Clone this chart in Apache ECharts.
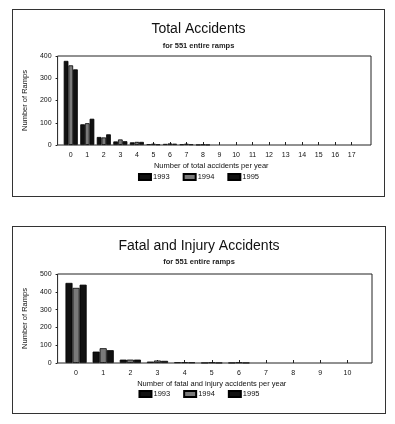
<!DOCTYPE html>
<html><head><meta charset="utf-8">
<script src="https://cdn.jsdelivr.net/npm/echarts@6/dist/echarts.min.js"></script>
<style>
html,body{margin:0;padding:0;background:#fff;width:395px;height:424px;overflow:hidden;}
.box{position:absolute;border:1px solid #333;box-sizing:border-box;background:#fff;}
</style></head>
<body>
<div id="c1" class="box" style="left:12px;top:9px;width:373px;height:188px;"></div>
<div id="c2" class="box" style="left:12px;top:226px;width:374px;height:188px;"></div>
<script>
var years = ['1993', '1994', '1995'];

var totalCats = ['0','1','2','3','4','5','6','7','8','9','10','11','12','13','14','15','16','17'];
var total1993 = [378, 93, 36, 16, 12, 4, 5, 3, 1, 0, 0, 0, 0, 0, 0, 0, 0, 0];
var total1994 = [358, 98, 34, 25, 14, 6, 7, 6, 2, 0, 0, 0, 0, 0, 0, 0, 0, 0];
var total1995 = [340, 118, 48, 17, 14, 3, 6, 3, 1, 0, 0, 0, 0, 0, 0, 0, 0, 0];
var totalTicks = [0, 100, 200, 300, 400];

var fiCats = ['0','1','2','3','4','5','6','7','8','9','10'];
var fi1993 = [450, 64, 19, 8, 4, 1, 1, 0, 0, 0, 0];
var fi1994 = [422, 83, 19, 14, 4, 3, 3, 0, 0, 0, 0];
var fi1995 = [440, 72, 19, 12, 3, 1, 1, 0, 0, 0, 0];
var fiTicks = [0, 100, 200, 300, 400, 500];

var FONT = '"Liberation Sans", Arial, sans-serif';
var colors = ['#111111', '#7a7a7a', '#111111'];

function build(el, cfg) {
  var chart = echarts.init(document.getElementById(el), null, {renderer: 'canvas'});
  var tickMax = cfg.ticks[cfg.ticks.length - 1];
  var tickStep = cfg.ticks[1] - cfg.ticks[0];
  var series = cfg.data.map(function (d, i) {
    return {
      name: years[i], type: 'bar', xAxisIndex: 0, yAxisIndex: 0,
      data: d.map(function (v) { return v === 0 ? null : v; }),
      barGap: '0%', barCategoryGap: cfg.gap,
      itemStyle: {color: colors[i], borderColor: '#000', borderWidth: 0.8},
      emphasis: {disabled: true}, animation: false
    };
  });
  chart.setOption({
    animation: false,
    title: [
      {text: cfg.title, left: 'center', top: 7, textStyle: {fontFamily: FONT, fontSize: 14, fontWeight: 'normal', color: '#111'}},
      {text: 'for 551 entire ramps', left: 'center', top: cfg.subTop, textStyle: {fontFamily: FONT, fontSize: 7.5, fontWeight: 'bold', color: '#222'}}
    ],
    legend: {
      data: years, bottom: 10, left: 'center', itemWidth: 12, itemHeight: 6, itemGap: 13,
      icon: 'rect', textStyle: {fontFamily: FONT, fontSize: 7.5, color: '#111', padding: [0,0,0,-3]},
      selectedMode: false
    },
    grid: [
      {left: 49.5, right: 24, top: cfg.top, bottom: cfg.bottom},
      {left: 39, right: 13, top: cfg.top, bottom: cfg.bottom, show: true, borderColor: '#222', borderWidth: 1, backgroundColor: 'transparent', z: 5}
    ],
    xAxis: [
      {type: 'category', gridIndex: 0, data: cfg.cats,
       axisLine: {show: false},
       axisTick: {show: true, inside: true, length: 3, alignWithLabel: true, lineStyle: {color: '#222', width: 1}},
       axisLabel: {fontFamily: FONT, fontSize: 7, color: '#111', margin: 7, interval: 0},
       name: cfg.xName, nameLocation: 'middle', nameGap: 17,
       nameTextStyle: {fontFamily: FONT, fontSize: 7.5, color: '#111'}},
      {type: 'value', gridIndex: 1, show: false, min: 0, max: 1}
    ],
    yAxis: [
      {type: 'value', gridIndex: 0, min: 0, max: tickMax, interval: tickStep, show: false},
      {type: 'value', gridIndex: 1, min: 0, max: tickMax, interval: tickStep,
       axisLine: {show: false},
       axisTick: {show: true, length: 2, lineStyle: {color: '#222'}},
       splitLine: {show: false},
       axisLabel: {fontFamily: FONT, fontSize: 7, color: '#111', margin: 6},
       name: 'Number of Ramps', nameLocation: 'middle', nameGap: 22, nameRotate: 90,
       nameTextStyle: {fontFamily: FONT, fontSize: 7.5, color: '#111'}}
    ],
    series: series
  });
}

build('c1', {title: 'Total Accidents', subTop: 27, cats: totalCats, data: [total1993, total1994, total1995],
  ticks: totalTicks, xName: 'Number of total accidents per year', top: 46, bottom: 51, gap: '15%'});
build('c2', {title: 'Fatal and Injury Accidents', subTop: 26, cats: fiCats, data: [fi1993, fi1994, fi1995],
  ticks: fiTicks, xName: 'Number of fatal and injury accidents per year', top: 47, bottom: 50, gap: '22%'});
</script>
</body></html>
